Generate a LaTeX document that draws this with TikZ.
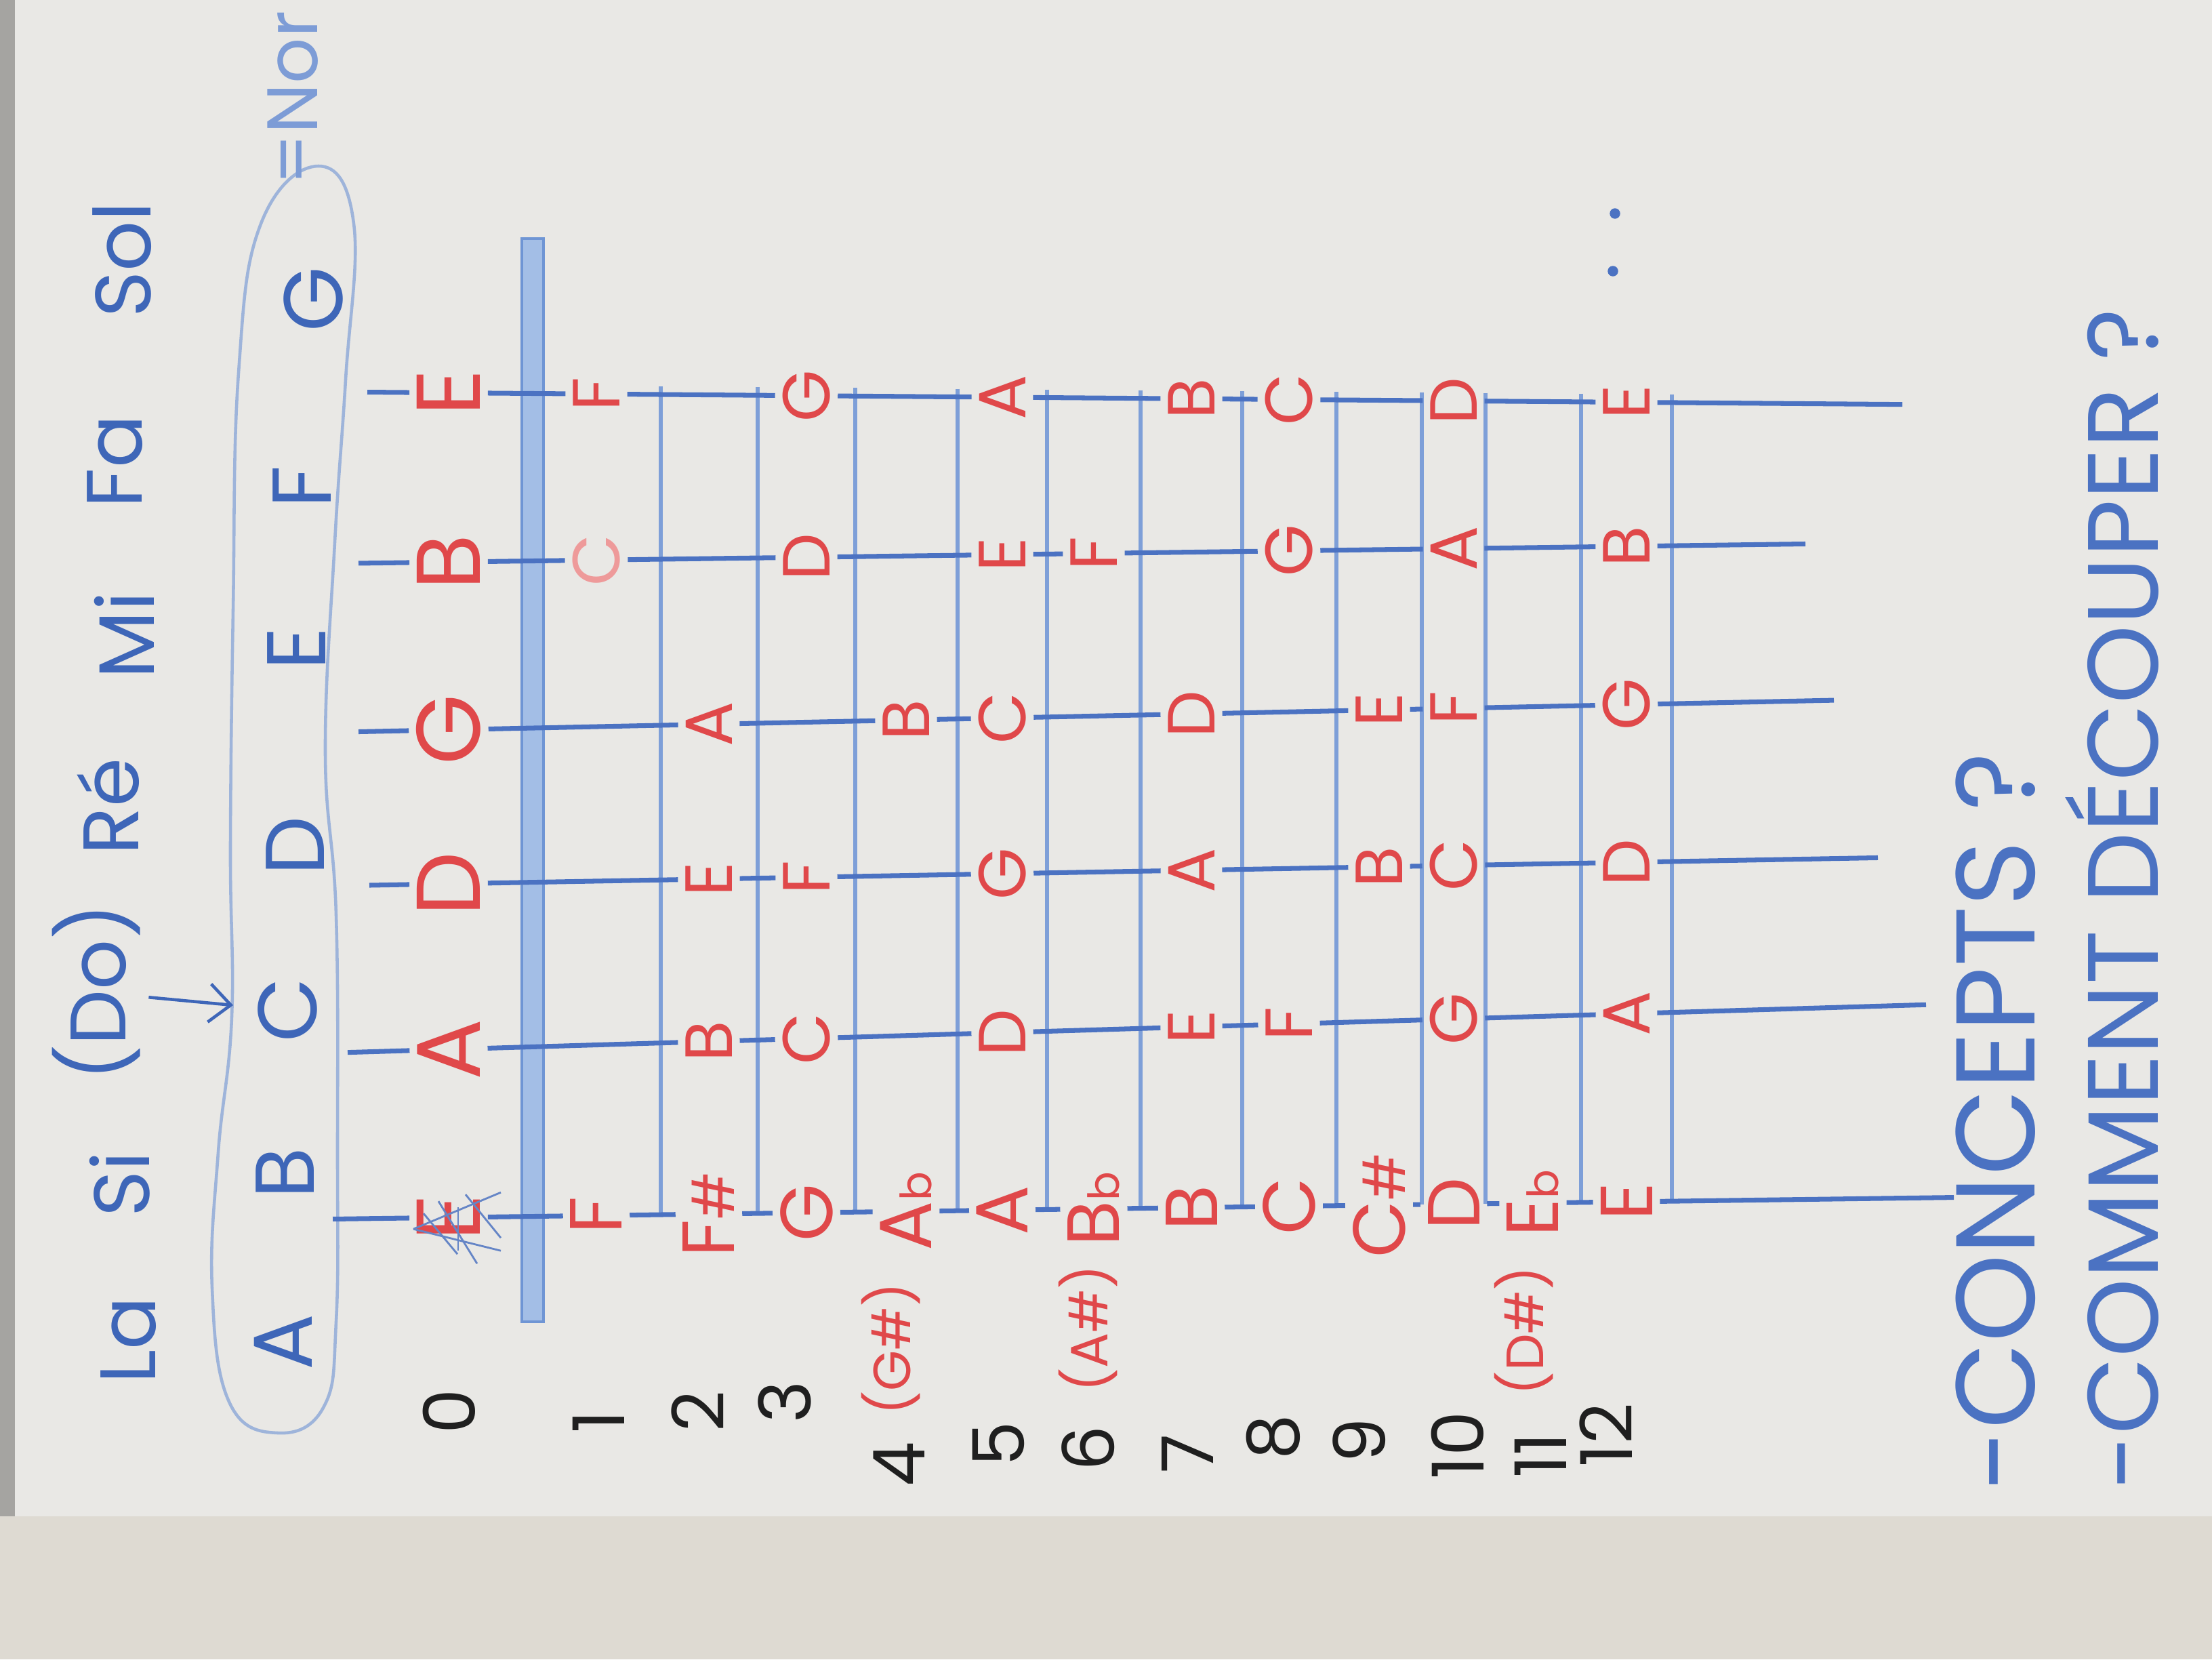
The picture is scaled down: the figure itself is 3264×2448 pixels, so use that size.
\documentclass[tikz,border=0pt]{standalone}
\usepackage{fontspec}
\setmainfont{Poppins}
\usetikzlibrary{calc,arrows.meta}

\definecolor{paper}{HTML}{E9E8E5}
\definecolor{strip}{HTML}{DEDAD2}
\definecolor{edge}{HTML}{A5A4A1}
\definecolor{mred}{HTML}{E0484A}
\definecolor{mpink}{HTML}{EE9A9A}
\definecolor{mblue}{HTML}{4B72C2}
\definecolor{fblue}{HTML}{7E9FD8}
\definecolor{tblue}{HTML}{3E66B8}
\definecolor{lblue}{HTML}{7D9CD6}
\definecolor{loopc}{HTML}{9EB4DA}
\definecolor{nutfill}{HTML}{A3BEE6}
\definecolor{nutline}{HTML}{6F95D4}
\definecolor{ink}{HTML}{1F1F1F}

\newcommand{\sharpmk}{{\fontsize{24}{24}\selectfont\#}}
\newcommand{\flatmk}{{\fontsize{18}{18}\selectfont b}}

\tikzset{
  opennote/.style={text=mred, rotate=90, inner sep=3pt, font=\fontsize{38}{40}\selectfont},
  fretnote/.style={text=mred, rotate=90, inner sep=3pt, font=\fontsize{28}{30}\selectfont},
  lownote/.style={fretnote, font=\fontsize{31}{33}\selectfont},
  enharm/.style={text=mred, rotate=90, font=\fontsize{22}{24}\selectfont},
  solfa/.style={text=tblue, rotate=90, font=\fontsize{33}{35}\selectfont},
  abcnote/.style={text=tblue, rotate=90, font=\fontsize{35}{37}\selectfont},
  fretnum/.style={text=ink, rotate=90, font=\fontsize{30}{32}\selectfont},
  question/.style={text=mblue, rotate=90, anchor=west},
  strline/.style={mblue, line width=2pt},
  fretline/.style={fblue, line width=1.5pt},
  nutbar/.style={fill=nutfill, draw=nutline, line width=1pt},
  loopline/.style={loopc, line width=1.3pt},
  arrowl/.style={tblue, line width=1.3pt, -{Straight Barb[length=9pt,width=16pt]}},
  hatch/.style={tblue!80, line width=0.8pt},
}

\begin{document}
\begin{tikzpicture}[x=0.01cm, y=-0.01cm]
\useasboundingbox (0,0) rectangle (3264,2448);
% paper
\fill[paper] (0,0) rectangle (3264,2237);
\fill[strip] (0,2237) rectangle (3264,2448);
\fill[edge] (0,0) rectangle (22,2237);

% solfege names and letter names
\node[solfa] (la) at (190,1977) {La};
\node[solfa] (si) at (177,1747) {Si};
\node[solfa] (do) at (142,1464) {(Do)};
\node[solfa] (re) at (160,1190) {Ré};
\node[solfa] (mi) at (183,937) {Mi};
\node[solfa] (fa) at (170,681) {Fa};
\node[solfa] (sol) at (180,383) {Sol};

\draw[loopline] plot[smooth cycle, tension=0.7] coordinates {(470,245) (522,330) (510,560) (494,800) (480,1110) (496,1350) (498,1700) (496,1950) (478,2075) (410,2114) (338,2068) (313,1900) (322,1700) (342,1500) (340,1250) (344,900) (352,550) (385,330)};
\node[abcnote] (ltA) at (418,1980) {A};
\node[abcnote] (ltB) at (421,1731) {B};
\node[abcnote] (ltC) at (424,1490) {C};
\node[abcnote] (ltD) at (436,1248) {D};
\node[abcnote] (ltE) at (438,957) {E};
\node[abcnote] (ltF) at (446,718) {F};
\node[abcnote] (ltG) at (462,442) {G};
\node[abcnote, text=lblue, anchor=east, font=\fontsize{30}{32}\selectfont] (nor) at (432,4) {=Nor};

\coordinate (tipc) at (344,1483);
\draw[arrowl] (do) -- (tipc);

% frets and nut
\foreach \fx in {975,1118,1262,1413,1545,1683,1833,1972,2098,2192,2333,2467}
  \draw[fretline] (\fx,{579+0.008*(\fx-600)-12}) -- (\fx,{1797-0.01333*(\fx-600)});
\draw[nutbar] (770,352) rectangle (802,1950);

% strings: open notes and end points
\foreach \sn/\yl/\yr/\xa/\xb/\on in {1/579/597/542/2807/E, 2/830/800/529/2664/B, 3/1078/1030/529/2706/G, 4/1305/1264/545/2771/D, 5/1550/1482/513/2842/A, 6/1797/1767/491/2883/E}{
  \coordinate (l\sn) at (600,\yl);
  \coordinate (r\sn) at (2850,\yr);
  \coordinate (a\sn) at ($(l\sn)!{(\xa-600)/2250}!(r\sn)$);
  \coordinate (b\sn) at ($(l\sn)!{(\xb-600)/2250}!(r\sn)$);
  \node[opennote] (o\sn) at ($(l\sn)!{(662-600)/2250}!(r\sn)$) {\on};
}

\def\colx{{662,880,1046,1190,1337,1479,1614,1758,1902,2035,2145,2262,2400}}

% notes on the frets
\foreach \cl/\nm in {1/F,3/G,5/A,7/B,8/C,10/D,12/E}{
  \pgfmathsetmacro\cx{\colx[\cl]}
  \node[fretnote] (s1c\cl) at ($(l1)!{(\cx-600)/2250}!(r1)$) {\nm};
}
\node[fretnote, text=mpink] (s2c1) at ($(l2)!{(880-600)/2250}!(r2)$) {C};
\foreach \cl/\nm in {3/D,5/E,6/F,8/G,10/A,12/B}{
  \pgfmathsetmacro\cx{\colx[\cl]}
  \node[fretnote] (s2c\cl) at ($(l2)!{(\cx-600)/2250}!(r2)$) {\nm};
}
\foreach \cl/\nm in {2/A,4/B,5/C,7/D,9/E,10/F,12/G}{
  \pgfmathsetmacro\cx{\colx[\cl]}
  \node[fretnote] (s3c\cl) at ($(l3)!{(\cx-600)/2250}!(r3)$) {\nm};
}
\foreach \cl/\nm in {2/E,3/F,5/G,7/A,9/B,10/C,12/D}{
  \pgfmathsetmacro\cx{\colx[\cl]}
  \node[fretnote] (s4c\cl) at ($(l4)!{(\cx-600)/2250}!(r4)$) {\nm};
}
\foreach \cl/\nm in {2/B,3/C,5/D,7/E,8/F,10/G,12/A}{
  \pgfmathsetmacro\cx{\colx[\cl]}
  \node[fretnote] (s5c\cl) at ($(l5)!{(\cx-600)/2250}!(r5)$) {\nm};
}
\foreach \cl/\nm in {1/F,2/F\sharpmk,3/G,4/A\flatmk,5/A,6/B\flatmk,7/B,8/C,9/C\sharpmk,10/D,11/E\flatmk,12/E}{
  \pgfmathsetmacro\cx{\colx[\cl]}
  \node[lownote] (s6c\cl) at ($(l6)!{(\cx-600)/2250}!(r6)$) {\nm};
}

% the strings
\draw[strline] (a1) -- (o1) -- (s1c1) -- (s1c3) -- (s1c5) -- (s1c7) -- (s1c8) -- (s1c10) -- (s1c12) -- (b1);
\draw[strline] (a2) -- (o2) -- (s2c1) -- (s2c3) -- (s2c5) -- (s2c6) -- (s2c8) -- (s2c10) -- (s2c12) -- (b2);
\draw[strline] (a3) -- (o3) -- (s3c2) -- (s3c4) -- (s3c5) -- (s3c7) -- (s3c9) -- (s3c10) -- (s3c12) -- (b3);
\draw[strline] (a4) -- (o4) -- (s4c2) -- (s4c3) -- (s4c5) -- (s4c7) -- (s4c9) -- (s4c10) -- (s4c12) -- (b4);
\draw[strline] (a5) -- (o5) -- (s5c2) -- (s5c3) -- (s5c5) -- (s5c7) -- (s5c8) -- (s5c10) -- (s5c12) -- (b5);
\draw[strline] (a6) -- (o6) -- (s6c1) -- (s6c2) -- (s6c3) -- (s6c4) -- (s6c5) -- (s6c6) -- (s6c7) -- (s6c8) -- (s6c9) -- (s6c10) -- (s6c11) -- (s6c12) -- (b6);

% crossed out low E
\draw[hatch] ($(o6)+(-52,17)$) -- ($(o6)+(77,-37)$);
\draw[hatch] ($(o6)+(-52,17)$) -- ($(o6)+(77,49)$);
\draw[hatch] ($(o6)+(14,-15)$) -- ($(o6)+(14,49)$);
\draw[hatch] ($(o6)+(-15,-24)$) -- ($(o6)+(42,68)$);
\draw[hatch] ($(o6)+(25,-34)$) -- ($(o6)+(77,30)$);
\draw[hatch] ($(o6)+(-37,-6)$) -- ($(o6)+(13,54)$);

% enharmonic names
\node[enharm] (gis) at (1315,1990) {(G\#)};
\node[enharm] (ais) at (1606,1960) {(A\#)};
\node[enharm] (dis) at (2249,1963) {(D\#)};

% fret numbers
\foreach \i/\x/\y in {0/663/2082, 1/883/2098, 2/1030/2082, 3/1158/2068, 4/1327/2160, 5/1473/2130, 6/1606/2137, 7/1752/2145, 8/1879/2120, 9/2006/2125, 10/2151/2132, 11/2273/2147, 12/2370/2117}
  \node[fretnum] (num\i) at (\x,\y) {\i};

\fill[mblue] (2383,315) circle (2.2pt);
\fill[mblue] (2380,400) circle (2.2pt);

% questions
\node[question, font=\fontsize{47}{49}\selectfont] (concepts) at (2945,2212) {-CONCEPTS ?};
\node[question, font=\fontsize{42}{44}\selectfont] (decouper) at (3117,2210) {-COMMENT DÉCOUPER ?};
\end{tikzpicture}
\end{document}
